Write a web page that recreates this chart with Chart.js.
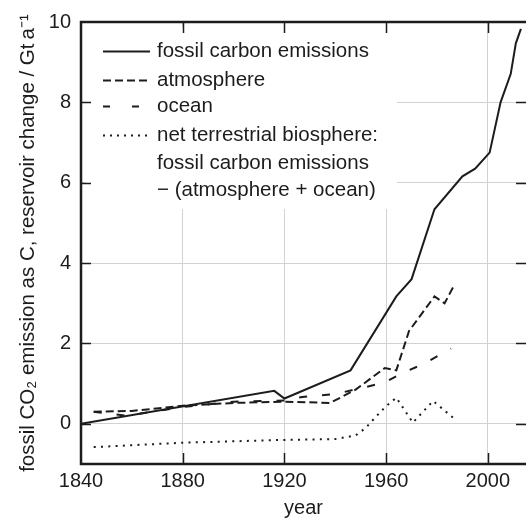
<!DOCTYPE html>
<html>
<head>
<meta charset="utf-8">
<script src="https://cdn.jsdelivr.net/npm/chart.js@4/dist/chart.umd.min.js"></script>
<style>
  html, body { margin: 0; padding: 0; background: #fff; overflow: hidden; }
  canvas { display: block; }
</style>
</head>
<body>
<canvas id="chart" width="526" height="519"></canvas>
<script>
// values
const fossilYears = [1840, 1916, 1920, 1946, 1964, 1970, 1979, 1990, 1995, 2000.7, 2005, 2009, 2011, 2013];
const fossilValues = [0, 0.82, 0.63, 1.33, 3.17, 3.6, 5.34, 6.16, 6.35, 6.75, 8.0, 8.71, 9.47, 9.83];

const atmosphereYears = [1845, 1860, 1880, 1900, 1920, 1938, 1948, 1959.5, 1964, 1969, 1979, 1983, 1986.5];
const atmosphereValues = [0.3, 0.32, 0.45, 0.52, 0.55, 0.52, 0.85, 1.39, 1.33, 2.31, 3.17, 3.0, 3.42];

const oceanYears = [1845, 1858, 1880, 1900, 1920, 1927, 1940, 1959, 1966, 1975, 1985.5];
const oceanValues = [0.3, 0.2, 0.42, 0.55, 0.58, 0.67, 0.74, 1.02, 1.25, 1.5, 1.87];

const biosphereYears = [1845, 1880, 1920, 1940, 1948, 1952, 1956, 1960, 1964, 1970.5, 1978.5, 1986.5];
const biosphereValues = [-0.58, -0.47, -0.4, -0.38, -0.29, -0.1, 0.18, 0.44, 0.65, 0.03, 0.57, 0.14];

const xTicks = [1840, 1880, 1920, 1960, 2000];
const yTicks = [0, 2, 4, 6, 8, 10];

const legendRows = [
  { text: "fossil carbon emissions", dash: [] },
  { text: "atmosphere", dash: [8, 4] },
  { text: "ocean", dash: [7, 22] },
  { text: "net terrestrial biosphere:", dash: [2, 5] },
  { text: "fossil carbon emissions", dash: null },
  { text: "\u2212 (atmosphere + ocean)", dash: null },
];

const INK = "#1c1c1c";
const FONT = "'Liberation Sans', Arial, sans-serif";

const toPoints = (xs, ys) => xs.map((x, i) => ({ x: x, y: ys[i] }));

// frame, inward ticks and the boxed legend
const framePlugin = {
  id: "frame",
  beforeDatasetsDraw(chart) {
    const { ctx } = chart;
    ctx.save();
    ctx.fillStyle = "#fff";
    ctx.fillRect(86, 27, 311, 182);
    ctx.restore();
  },
  afterDatasetsDraw(chart) {
    const { ctx, chartArea: a, scales } = chart;
    const xs = scales.x, ys = scales.y;
    ctx.save();
    ctx.strokeStyle = INK;
    ctx.lineWidth = 1.5;
    ctx.beginPath();
    xTicks.forEach((t) => {
      if (t <= xs.min || t >= xs.max) return;
      const px = Math.round(xs.getPixelForValue(t)) + 0.5;
      ctx.moveTo(px, a.top); ctx.lineTo(px, a.top + 11);
      ctx.moveTo(px, a.bottom); ctx.lineTo(px, a.bottom - 11);
    });
    yTicks.forEach((t) => {
      if (t <= ys.min || t >= ys.max) return;
      const py = Math.round(ys.getPixelForValue(t)) + 0.5;
      ctx.moveTo(a.left, py); ctx.lineTo(a.left + 10, py);
      ctx.moveTo(a.right, py); ctx.lineTo(a.right - 10, py);
    });
    ctx.stroke();

    // axis lines: left, bottom, top
    ctx.lineWidth = 2.5;
    ctx.beginPath();
    ctx.moveTo(a.left, a.top); ctx.lineTo(a.right, a.top);
    ctx.moveTo(a.left, a.top - 1.2); ctx.lineTo(a.left, a.bottom + 1.2);
    ctx.moveTo(a.left, a.bottom); ctx.lineTo(a.right, a.bottom);
    ctx.stroke();

    // legend
    const rowY = [51, 80, 106, 135, 163, 190];
    ctx.font = "20.5px " + FONT;
    ctx.fillStyle = INK;
    ctx.textBaseline = "middle";
    legendRows.forEach((r, i) => {
      const y = rowY[i];
      if (r.dash) {
        ctx.lineWidth = 2;
        ctx.setLineDash(r.dash);
        ctx.beginPath();
        ctx.moveTo(103, y + 0.5); ctx.lineTo(150, y + 0.5);
        ctx.stroke();
        ctx.setLineDash([]);
      }
      ctx.fillText(r.text, 157, y);
    });
    ctx.restore();
  },
};

const lineStyle = (dash) => ({
  borderColor: INK,
  borderWidth: 2,
  borderDash: dash,
  pointRadius: 0,
  tension: 0,
  fill: false,
});

new Chart(document.getElementById("chart"), {
  type: "line",
  data: {
    datasets: [
      { label: "fossil carbon emissions", data: toPoints(fossilYears, fossilValues), ...lineStyle([]) },
      { label: "atmosphere", data: toPoints(atmosphereYears, atmosphereValues), ...lineStyle([8, 4]) },
      { label: "ocean", data: toPoints(oceanYears, oceanValues), ...lineStyle([8, 15]) },
      { label: "net terrestrial biosphere", data: toPoints(biosphereYears, biosphereValues), ...lineStyle([2, 5.3]) },
    ],
  },
  options: {
    responsive: false,
    animation: false,
    devicePixelRatio: 1,
    layout: { padding: { top: 17, right: 0, left: 0, bottom: 0 } },
    plugins: { legend: { display: false }, tooltip: { enabled: false } },
    scales: {
      x: {
        type: "linear",
        min: 1840,
        max: 2015,
        afterBuildTicks: (s) => { s.ticks = xTicks.map((v) => ({ value: v })); },
        afterFit: (s) => { s.height = 55; },
        grid: { color: "#d2d2d2", lineWidth: 1, drawTicks: false },
        border: { display: false },
        ticks: {
          padding: 5,
          color: INK,
          font: { family: FONT, size: 20 },
          maxRotation: 0,
          callback: (v) => String(v),
        },
        title: {
          display: true,
          text: "year",
          color: INK,
          font: { family: FONT, size: 20, lineHeight: 1.1 },
          padding: { top: 0, bottom: 0 },
        },
      },
      y: {
        min: -1,
        max: 10,
        afterBuildTicks: (s) => { s.ticks = yTicks.map((v) => ({ value: v })); },
        afterFit: (s) => { s.width = 81; },
        grid: { color: "#d2d2d2", lineWidth: 1, drawTicks: false },
        border: { display: false },
        ticks: {
          padding: 10,
          color: INK,
          font: { family: FONT, size: 20 },
          callback: (v) => String(v),
        },
        title: {
          display: true,
          text: "fossil CO\u2082 emission as C, reservoir change / Gt\u2009a\u207B\u00B9",
          color: INK,
          font: { family: FONT, size: 20.5 },
          padding: { top: 16, bottom: 0 },
        },
      },
    },
  },
  plugins: [framePlugin],
});
</script>
</body>
</html>
